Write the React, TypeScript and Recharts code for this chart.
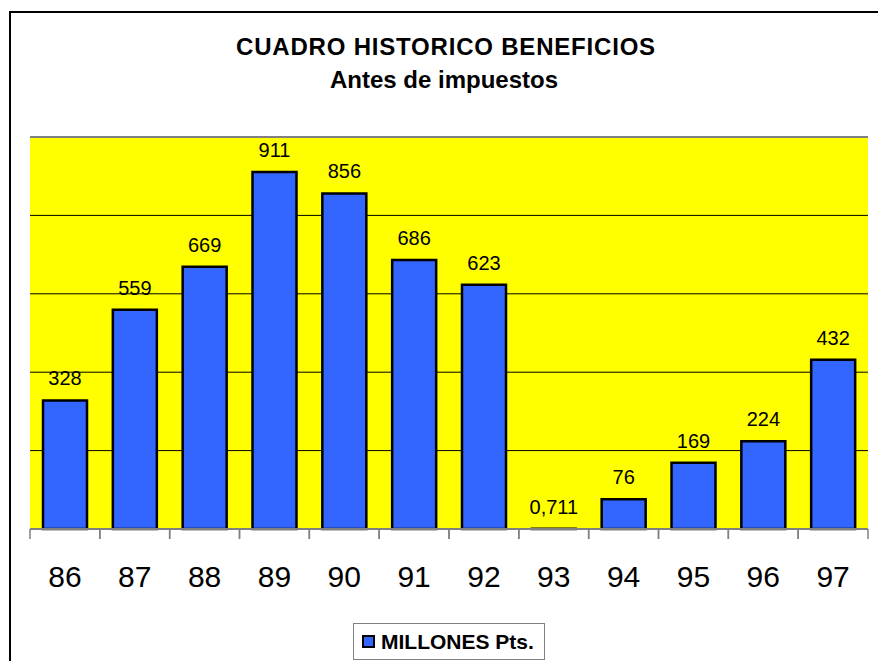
import React from 'react';
import { BarChart, Bar, XAxis, YAxis, CartesianGrid, LabelList, Legend, ReferenceLine } from 'recharts';

const years = ['86', '87', '88', '89', '90', '91', '92', '93', '94', '95', '96', '97'];
const millones = [328, 559, 669, 911, 856, 686, 623, 0.711, 76, 169, 224, 432];
const yTicks = [0, 200, 400, 600, 800, 1000];
const seriesName = 'MILLONES Pts.';
const titleLines = ['CUADRO HISTORICO BENEFICIOS', 'Antes de impuestos'];

const data = years.map((year, i) => ({ year, value: millones[i] }));

const FONT = '"Liberation Sans", Arial, Helvetica, sans-serif';

const YearTick = (props: any) => {
  const { x, y, payload, width, visibleTicksCount } = props;
  const half =
    payload && typeof payload.offset === 'number' && payload.offset > 0
      ? payload.offset
      : width / (visibleTicksCount || years.length) / 2;
  return (
    <g>
      <line x1={x - half} y1={y} x2={x - half} y2={y + 10} stroke="#808080" strokeWidth={1.5} />
      <line x1={x + half} y1={y} x2={x + half} y2={y + 10} stroke="#808080" strokeWidth={1.5} />
      <text x={x} y={y + 58} textAnchor="middle" fontSize={30} fontFamily={FONT} fill="#000">
        {payload.value}
      </text>
    </g>
  );
};

const EmptyTick = () => <g />;

const LegendBox = (props: any) => {
  const entry = props.payload && props.payload[0];
  return (
    <div
      style={{
        boxSizing: 'border-box',
        width: 192,
        height: 37,
        border: '1.5px solid #808080',
        display: 'flex',
        alignItems: 'center',
        paddingLeft: 8,
        fontFamily: FONT,
        fontWeight: 'bold',
        fontSize: 21,
        color: '#000',
        background: '#fff',
        whiteSpace: 'nowrap',
      }}
    >
      <span
        style={{
          display: 'inline-block',
          boxSizing: 'border-box',
          width: 13,
          height: 13,
          background: entry ? entry.color : '#3366FF',
          border: '2px solid #000',
          marginRight: 6,
        }}
      />
      {entry ? entry.value : seriesName}
    </div>
  );
};

const fmt = (v: any) => String(v).replace('.', ',');

export default function App() {
  return (
    <div style={{ position: 'absolute', left: 0, top: 0, width: 878, height: 661, overflow: 'hidden', background: '#fff' }}>
      <div
        style={{
          position: 'absolute',
          left: 9,
          top: 11,
          width: 1000,
          height: 1000,
          borderTop: '2px solid #000',
          borderLeft: '2px solid #000',
          boxSizing: 'border-box',
        }}
      />
      <div style={{ position: 'absolute', left: 0, top: 0 }}>
        <BarChart width={878} height={661} data={data} margin={{ top: 137, left: 30, right: 10, bottom: 1 }}>
          <CartesianGrid vertical={false} horizontal={false} fill="#FFFF00" fillOpacity={1} />
          {yTicks.slice(1, -1).map((t) => (
            <ReferenceLine key={t} y={t} stroke="#000" strokeWidth={1} zIndex={-50} />
          ))}
          <XAxis
            dataKey="year"
            height={94}
            tickSize={0}
            tickMargin={0}
            tickLine={false}
            interval={0}
            axisLine={{ stroke: '#808080', strokeWidth: 2 }}
            tick={<YearTick />}
          />
          <YAxis
            domain={[0, 1000]}
            ticks={yTicks}
            width={0}
            tick={<EmptyTick />}
            tickLine={false}
            axisLine={{ stroke: '#808080', strokeWidth: 2 }}
          />
          <YAxis
            yAxisId="right"
            orientation="right"
            domain={[0, 1000]}
            ticks={yTicks}
            width={0}
            tick={<EmptyTick />}
            tickLine={false}
            axisLine={{ stroke: '#808080', strokeWidth: 2 }}
          />
          <Legend
            verticalAlign="bottom"
            content={<LegendBox />}
            wrapperStyle={{ left: 353, width: 192, bottom: 1 }}
          />
          <Bar
            dataKey="value"
            name={seriesName}
            fill="#3366FF"
            stroke="#000"
            strokeWidth={2.5}
            barSize={44}
            isAnimationActive={false}
          >
            <LabelList
              dataKey="value"
              position="top"
              offset={15}
              formatter={fmt}
              fill="#000"
              fontSize={20}
              fontFamily={FONT}
            />
          </Bar>
          <ReferenceLine y={1000} stroke="#808080" strokeWidth={2} />
          <text x={446} y={55} textAnchor="middle" fontFamily={FONT} fontWeight="bold" fontSize={24} letterSpacing={0.8} fill="#000">
            {titleLines[0]}
          </text>
          <text x={444} y={88} textAnchor="middle" fontFamily={FONT} fontWeight="bold" fontSize={24} fill="#000">
            {titleLines[1]}
          </text>
        </BarChart>
      </div>
    </div>
  );
}
